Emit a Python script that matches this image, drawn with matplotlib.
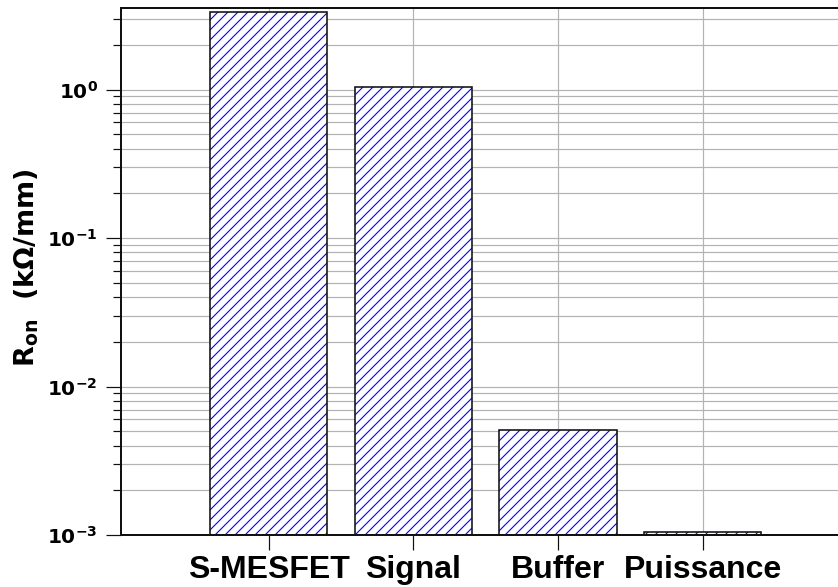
import matplotlib
matplotlib.use("Agg")
import matplotlib.pyplot as plt
from matplotlib.ticker import FixedLocator, LogLocator, NullFormatter

# ---------------------------------------------------------------
# Donnees
categories = ['S-MESFET', 'Signal', 'Buffer', 'Puissance']
r_on = [3.35, 1.04, 0.0051, 0.00104]          # kOhm/mm
ytick_vals = [1e-3, 1e-2, 1e-1, 1e0]
ytick_labels = [r'$\mathbf{10^{-3}}$', r'$\mathbf{10^{-2}}$',
                r'$\mathbf{10^{-1}}$', r'$\mathbf{10^{0}}$']
ylabel = r'$\mathbf{R_{on}}$  (k$\mathbf{\Omega}$/mm)'

# ---------------------------------------------------------------
# dpi choisi pour que l'espacement des hachures colle a l'original
DPI = 60
def px(v):
    # pixels -> points
    return v * 72.0 / DPI

plt.rcParams['mathtext.fontset'] = 'dejavusans'
plt.rcParams['hatch.linewidth'] = px(1.1)

fig = plt.figure(figsize=(838 / DPI, 587 / DPI), dpi=DPI)
xmin, xmax = -1.023, 4.0
unit = 144.67
ax = fig.add_axes([120.7 / 838, 52 / 587, (xmax - xmin) * unit / 838, 527 / 587])

# hachures bleues puis contour noir
ax.bar(categories, r_on, width=0.81, color='white', edgecolor='blue',
       hatch='//', linewidth=0, zorder=2)
ax.bar(categories, r_on, width=0.81, fill=False, edgecolor='#111111',
       linewidth=px(1.6), zorder=3)

ax.set_yscale('log')
ax.set_ylim(1e-3, 3.54)
ax.set_xlim(xmin, xmax)

ax.yaxis.set_major_locator(FixedLocator(ytick_vals))
ax.set_yticklabels(ytick_labels, fontsize=px(20))
ax.yaxis.set_minor_locator(LogLocator(base=10, subs=range(2, 10), numticks=20))
ax.yaxis.set_minor_formatter(NullFormatter())

ax.tick_params(axis='y', which='major', length=px(15), width=px(1.2), pad=px(8), color='#111111')
ax.tick_params(axis='y', which='minor', length=px(8), width=px(1.2), color='#111111')
ax.tick_params(axis='x', which='major', length=px(15), width=px(1.2), pad=px(5), color='#111111')
for lab in ax.get_xticklabels():
    lab.set_fontfamily('Liberation Sans')
    lab.set_fontweight('bold')
    lab.set_fontsize(px(32))

ax.grid(True, which='major', axis='both', color='#b3b3b3', linewidth=px(1.2), zorder=0)
ax.grid(True, which='minor', axis='y', color='#b3b3b3', linewidth=px(1.2), zorder=0)
ax.set_axisbelow(True)

for side in ['left', 'top', 'bottom']:
    ax.spines[side].set_linewidth(px(2))
    ax.spines[side].set_color('#111111')
ax.spines['right'].set_visible(False)

fig.text(27 / 838, 1 - 267.5 / 587, ylabel, rotation=90, ha='center', va='center',
         fontsize=px(27), fontweight='bold')

fig.savefig('out.png', dpi=DPI)
